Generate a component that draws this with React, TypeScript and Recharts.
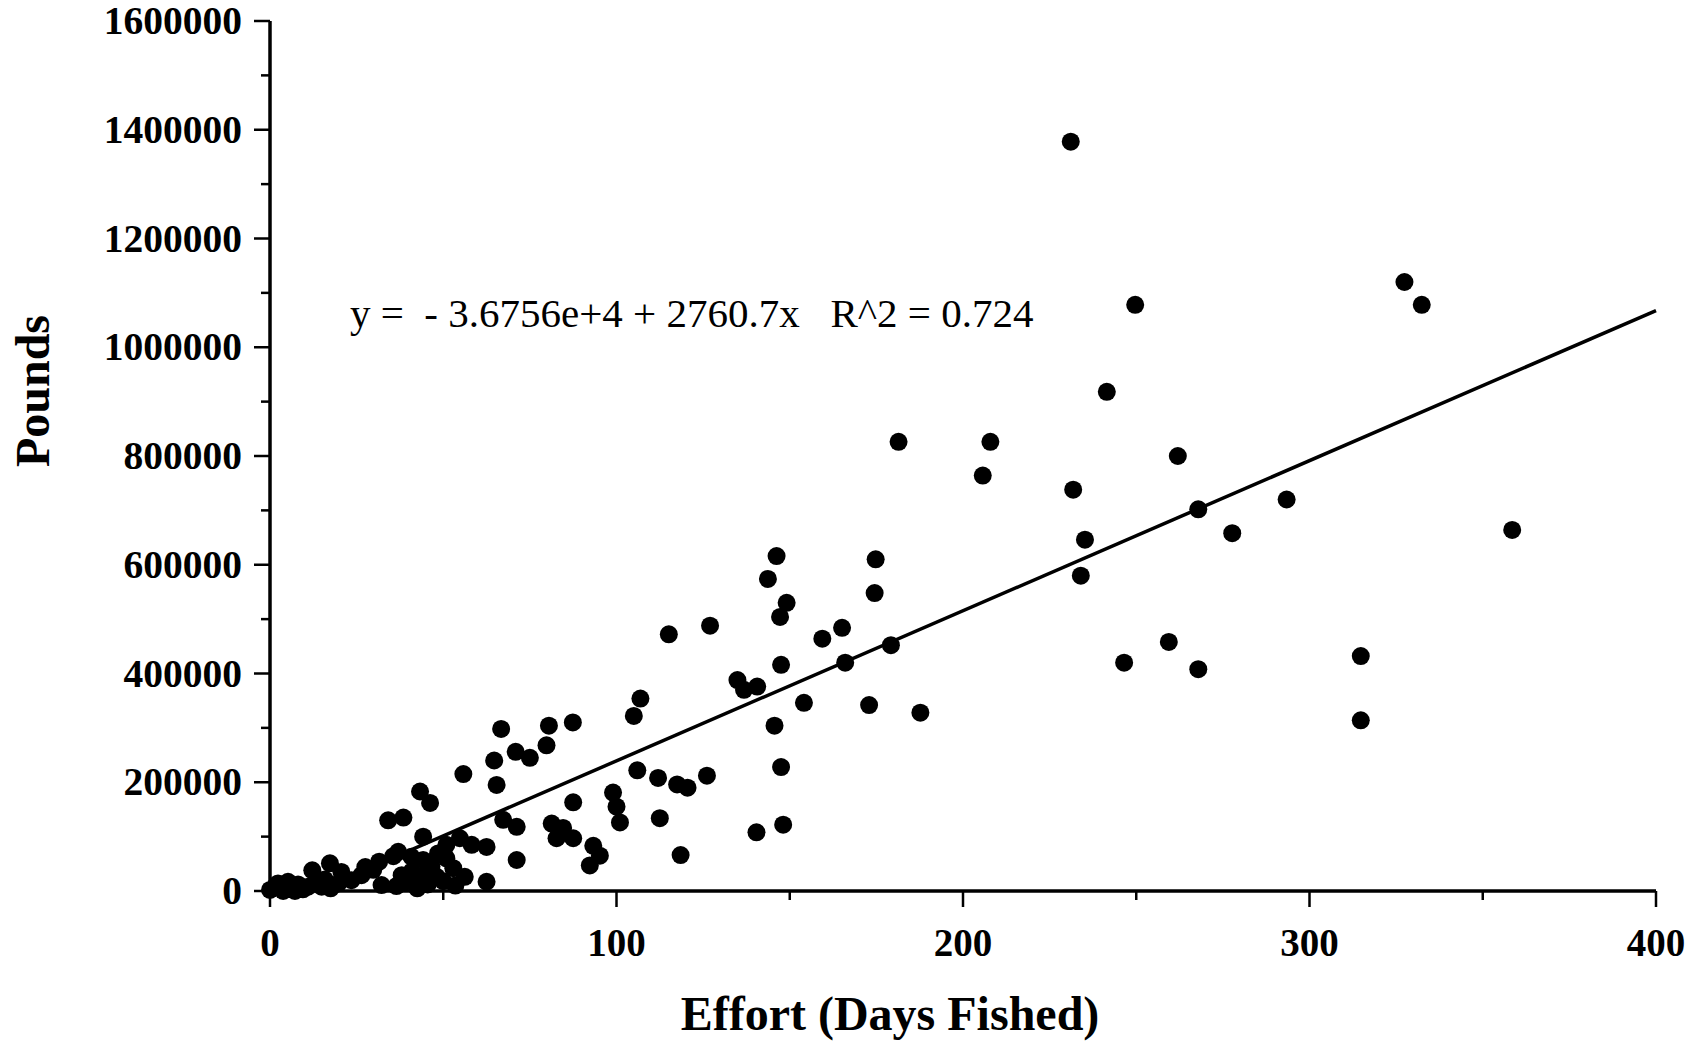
import React from "react"
import { ScatterChart, Scatter, XAxis, YAxis } from "recharts"

const effortDays = [
    0, 2.3, 3.8, 5.2, 7.2, 8.1, 11.0, 12.2, 14.9, 15.8,
    17.3, 19.7, 20.6, 23.5, 26.4, 27.5, 29.8, 31.5, 32.2, 35.6,
    37.0, 38.0, 38.9, 40.8, 40.9, 41.8, 44.2, 44.2, 45.2, 46.6,
    48.1, 48.5, 34.1, 38.5, 43.3, 46.2, 50.9, 54.8, 58.2, 62.5,
    50.9, 52.9, 56.2, 62.5, 55.8, 64.7, 65.4, 66.7, 70.9, 75.0,
    79.8, 80.5, 87.4, 67.3, 71.2, 71.2, 81.3, 84.6, 82.7, 87.5,
    87.5, 93.3, 95.2, 92.3, 99.0, 100.0, 101.0,
    1.5, 9.5, 13.5, 17.5, 36.5, 42.5, 45.5, 50.0, 53.5,
    105.0, 106.9, 106.0, 112.0, 117.5, 120.5, 126.1, 112.5, 118.5, 115.1,
    127.0, 134.9, 136.8, 140.6, 140.4, 143.7, 146.2, 147.2, 149.1, 147.5,
    145.6, 147.5, 148.1, 154.1, 159.4, 165.1, 166.0, 172.9, 174.5, 174.8,
    179.2, 187.7, 181.4,
    207.9, 205.7, 231.1, 231.8, 235.2, 234.0, 241.5, 249.7, 246.5, 259.4,
    262.0, 267.9, 267.9, 277.7, 293.4, 314.8, 314.8, 327.4, 332.4, 358.5,
]

// Landed pounds, same order as effortDays
const pounds = [
    2000, 14000, 0, 17000, 0, 12000, 8000, 38000, 8000, 21000,
    51000, 14000, 35000, 20000, 29000, 44000, 39000, 54000, 11000, 64000,
    72000, 29000, 17000, 63000, 36000, 14000, 100000, 57000, 32000, 45000,
    26000, 69000, 130000, 135000, 183000, 162000, 85000, 97000, 85000, 81000,
    60000, 42000, 26000, 17000, 215000, 240000, 195000, 298000, 256000, 245000,
    268000, 304000, 310000, 131000, 118000, 57000, 124000, 116000, 97000, 97000,
    163000, 83000, 65000, 47000, 181000, 155000, 126000,
    8000, 3000, 14000, 5000, 9000, 5000, 12000, 18000, 10000,
    322000, 354000, 222000, 208000, 196000, 190000, 212000, 134000, 66000, 472000,
    488000, 388000, 370000, 376000, 108000, 574000, 616000, 504000, 530000, 416000,
    304000, 228000, 122000, 346000, 464000, 484000, 420000, 342000, 548000, 610000,
    452000, 328000, 826000,
    826000, 764000, 1378000, 738000, 646000, 580000, 918000, 1078000, 420000, 458000,
    800000, 702000, 408000, 658000, 720000, 432000, 314000, 1120000, 1078000, 664000,
]

// Fitted line y = -3.6756e+4 + 2760.7x, drawn from the x-axis to the right edge
const trendEffort = [13.3, 400]
const trendPounds = [0, 1067524]

const xTicks = [0, 50, 100, 150, 200, 250, 300, 350, 400]
const yTicks = [0, 100000, 200000, 300000, 400000, 500000, 600000, 700000, 800000,
    900000, 1000000, 1100000, 1200000, 1300000, 1400000, 1500000, 1600000]

const equationText = "y =  - 3.6756e+4 + 2760.7x   R^2 = 0.724"

const points = effortDays.map((x, i) => ({ x, y: pounds[i] }))
const trend = trendEffort.map((x, i) => ({ x, y: trendPounds[i] }))

const SERIF = "'Liberation Serif', 'Times New Roman', Times, serif"

const Dot = (props: { cx?: number; cy?: number }) => {
    const { cx, cy } = props
    if (cx == null || cy == null) return <g />
    return <circle cx={cx} cy={cy} r={9} fill="#000" />
}

const YTick = (props: any) => {
    const { x, y, payload } = props
    const major = payload.value % 200000 === 0
    return (
        <g>
            <line x1={x} y1={y} x2={x - (major ? 16 : 9)} y2={y} stroke="#000" strokeWidth={2.5} />
            {major && (
                <text x={x - 28} y={y} dy={13} textAnchor="end" fontSize={39.5} fontWeight="bold"
                    fontFamily={SERIF} fill="#000">
                    {payload.value}
                </text>
            )}
        </g>
    )
}

const XTick = (props: any) => {
    const { x, y, payload } = props
    const major = payload.value % 100 === 0
    return (
        <g>
            <line x1={x} y1={y} x2={x} y2={y + (major ? 16 : 9)} stroke="#000" strokeWidth={2.5} />
            {major && (
                <text x={x} y={y + 65} textAnchor="middle" fontSize={39} fontWeight="bold"
                    fontFamily={SERIF} fill="#000">
                    {payload.value}
                </text>
            )}
        </g>
    )
}

// axis titles + regression equation, placed like the original figure
const XTitle = () => (
    <text x={890} y={1030} textAnchor="middle" fontSize={48} fontWeight="bold" fontFamily={SERIF} fill="#000">
        Effort (Days Fished)
    </text>
)

const YTitle = () => (
    <g>
        <text x={49} y={391} transform="rotate(-90, 49, 391)" textAnchor="middle" fontSize={48}
            fontWeight="bold" fontFamily={SERIF} fill="#000">
            Pounds
        </text>
        <text x={350} y={327} fontSize={41} fontFamily={SERIF} fill="#000" style={{ whiteSpace: "pre" }}>
            {equationText}
        </text>
    </g>
)

export default function App() {
    return (
        <div style={{ position: "absolute", left: 0, top: 0, width: 1708, height: 1044, background: "#fff" }}>
            <ScatterChart width={1708} height={1044} margin={{ top: 21, right: 52, bottom: 0, left: 0 }}>
                <XAxis
                    type="number"
                    dataKey="x"
                    domain={[0, 400]}
                    ticks={xTicks}
                    interval={0}
                    height={153}
                    tickSize={0}
                    tickMargin={0}
                    tickLine={false}
                    axisLine={{ stroke: "#000", strokeWidth: 3.5 }}
                    tick={XTick}
                    label={<XTitle />}
                />
                <YAxis
                    type="number"
                    dataKey="y"
                    domain={[0, 1600000]}
                    ticks={yTicks}
                    interval={0}
                    width={270}
                    tickSize={0}
                    tickMargin={0}
                    tickLine={false}
                    axisLine={{ stroke: "#000", strokeWidth: 3.5 }}
                    tick={YTick}
                    label={<YTitle />}
                />
                <Scatter
                    data={trend}
                    line={{ stroke: "#000", strokeWidth: 3.5 }}
                    shape={() => <g />}
                    isAnimationActive={false}
                />
                <Scatter data={points} shape={<Dot />} isAnimationActive={false} />
            </ScatterChart>
        </div>
    )
}
